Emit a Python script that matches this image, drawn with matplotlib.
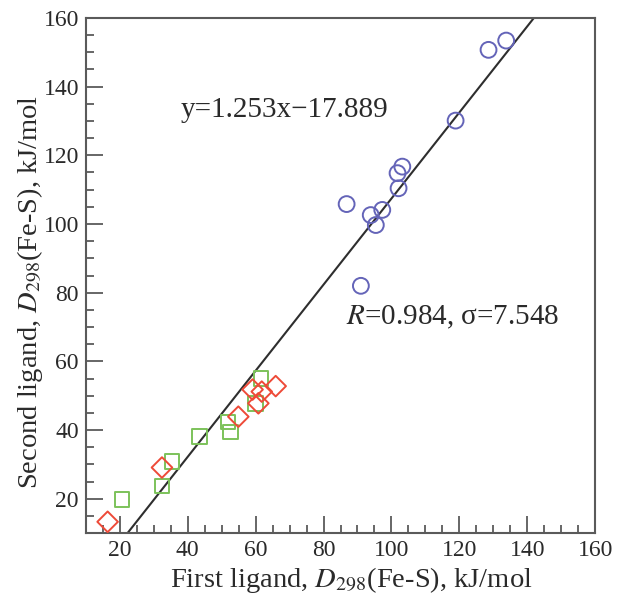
import matplotlib
matplotlib.use("Agg")
import matplotlib.pyplot as plt
from matplotlib.ticker import MultipleLocator
import numpy as np

plt.rcParams['font.family'] = ['Liberation Serif', 'DejaVu Serif']
plt.rcParams['mathtext.fontset'] = 'stix'

# First-ligand vs second-ligand Fe-S bond energies (kJ/mol)
circle_x = [128.6, 133.8, 118.9, 103.2, 101.8, 102.1, 86.8, 97.3, 93.9, 95.4, 91.0]
circle_y = [150.7, 153.4, 130.1, 116.7, 114.8, 110.4, 105.8, 104.1, 102.6, 99.7, 82.0]

square_x = [20.6, 32.4, 35.3, 43.4, 51.9, 52.6, 60.0, 61.6]
square_y = [19.8, 23.7, 30.8, 38.2, 42.4, 39.5, 47.8, 55.0]

diamond_x = [16.4, 32.4, 54.9, 59.1, 61.8, 65.9, 60.8]
diamond_y = [13.3, 29.1, 43.9, 51.8, 51.2, 52.8, 47.8]

slope, intercept = 1.253, -17.889
r_value, sigma = 0.984, 7.548

x_ticks = [20, 40, 60, 80, 100, 120, 140, 160]
y_ticks = [20, 40, 60, 80, 100, 120, 140, 160]

fig = plt.figure(figsize=(6.18, 5.97), dpi=100)
ax = fig.add_axes([0.139, 0.107, 0.824, 0.863])

spine_col = '#5a5a5a'
text_col = '#2a2a2a'
for s in ax.spines.values():
    s.set_color(spine_col)
    s.set_linewidth(1.5)

# regression line across the plotting range
xl = np.array([10, 160])
ax.plot(xl, slope * xl + intercept, color='#2e2e2e', lw=1.5, zorder=2)

ax.scatter(circle_x, circle_y, s=130, marker='o', facecolors='none',
           edgecolors='#6464b8', linewidths=1.4, zorder=3)
ax.scatter(square_x, square_y, s=110, marker='s', facecolors='none',
           edgecolors='#7cc25a', linewidths=1.4, zorder=3)
ax.scatter(diamond_x, diamond_y, s=110, marker='D', facecolors='none',
           edgecolors='#ee4a38', linewidths=1.4, zorder=4)

ax.set_xlim(10, 160)
ax.set_ylim(10, 160)
ax.set_xticks(x_ticks)
ax.set_yticks(y_ticks)
ax.xaxis.set_minor_locator(MultipleLocator(5))
ax.yaxis.set_minor_locator(MultipleLocator(5))
ax.tick_params(which='both', direction='in', top=False, right=False,
               color=spine_col, width=1.3)
ax.tick_params(which='major', length=12, labelsize=17, pad=5,
               labelcolor=text_col)
ax.tick_params(which='minor', length=6)

# axis titles
fig.text(0.568, 0.0285, 'First ligand, $\\mathit{D}_{298}$(Fe-S), kJ/mol',
         fontsize=20.5, color=text_col, ha='center', va='center')
fig.text(0.0485, 0.511, 'Second ligand, $\\mathit{D}_{298}$(Fe-S), kJ/mol',
         fontsize=20.5, color=text_col, ha='center', va='center', rotation=90)

ax.text(38.0, 133.2, f'y={slope:.3f}x\u2212{abs(intercept):.3f}',
        fontsize=21, color=text_col, va='center', ha='left')
ax.text(86.6, 72.9, f'$\\mathit{{R}}$={r_value:.3f}, \u03c3={sigma:.3f}',
        fontsize=21, color=text_col, va='center', ha='left')

fig.savefig('out.png', dpi=100)
